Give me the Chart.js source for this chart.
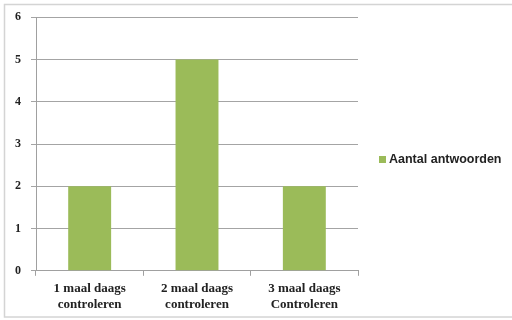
<!DOCTYPE html>
<html>
<head>
<meta charset="utf-8">
<script src="https://cdn.jsdelivr.net/npm/chart.js@4"></script>
<style>
  html, body { margin: 0; padding: 0; background: #fff; }
  #wrap { width: 512px; height: 320px; }
</style>
</head>
<body>
<div id="wrap"><canvas id="chart" width="512" height="320"></canvas></div>
<script>
var categories = [['1 maal daags', 'controleren'], ['2 maal daags', 'controleren'], ['3 maal daags', 'Controleren']];
var answers = [2, 5, 2];
var seriesName = 'Aantal antwoorden';

// thin grey frame round the whole chart
var frame = {
    id: 'frame',
    beforeDraw: function (chart) {
        var c = chart.ctx;
        c.save();
        c.fillStyle = '#fff';
        c.fillRect(0, 0, chart.width, chart.height);
        c.strokeStyle = '#d4d4d4';
        c.lineWidth = 1.5;
        c.strokeRect(4.5, 4.5, 530, 312.5);
        c.restore();
    }
};

// single legend entry to the right of the plot, centred on the canvas height
var sideLegend = {
    id: 'sideLegend',
    afterDraw: function (chart) {
        var c = chart.ctx;
        var area = chart.chartArea;
        var ds = chart.data.datasets[0];
        var y = Math.round(chart.height / 2);
        var x = area.right + 21;
        c.save();
        c.fillStyle = ds.backgroundColor;
        c.fillRect(x, y - 4, 7, 7);
        c.fillStyle = '#222';
        c.font = 'bold 12.5px "Liberation Sans"';
        c.textBaseline = 'middle';
        c.fillText(ds.label, x + 10, y);
        c.restore();
    }
};

var ctx = document.getElementById('chart');
var chart = new Chart(ctx, {
    type: 'bar',
    data: {
        labels: categories,
        datasets: [{
            label: seriesName,
            data: answers,
            backgroundColor: '#9bbb59',
            barPercentage: 0.4,
            categoryPercentage: 1.0
        }]
    },
    options: {
        responsive: false,
        animation: false,
        layout: { padding: { left: 5, top: 15, right: 154, bottom: 3 } },
        scales: {
            x: {
                grid: {
                    offset: true,
                    drawOnChartArea: false,
                    color: '#a0a0a0',
                    tickLength: 5
                },
                border: { color: '#a0a0a0' },
                ticks: {
                    color: '#222',
                    font: { family: 'Liberation Serif', weight: 'bold', size: 13 },
                    padding: 5,
                    maxRotation: 0
                }
            },
            y: {
                min: 0,
                max: 6,
                grid: { color: '#a4a4a4', tickLength: 5 },
                border: { color: '#a0a0a0' },
                ticks: {
                    stepSize: 1,
                    color: '#222',
                    padding: 10,
                    font: { family: 'Liberation Serif', weight: 'bold', size: 12 }
                }
            }
        },
        plugins: {
            legend: { display: false },
            tooltip: { enabled: false }
        }
    },
    plugins: [frame, sideLegend]
});
</script>
</body>
</html>
